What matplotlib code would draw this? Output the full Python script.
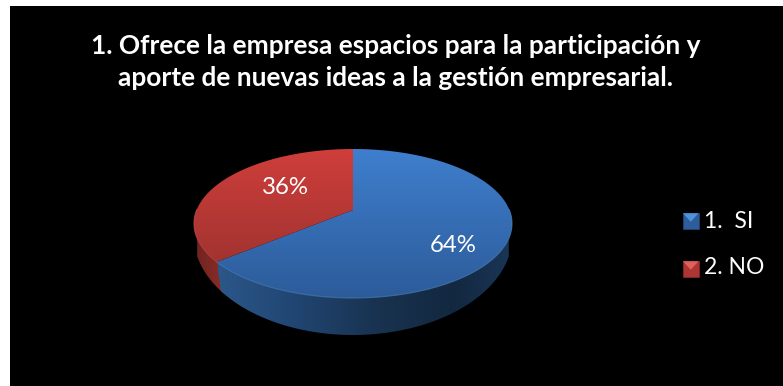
import numpy as np
import matplotlib
matplotlib.use('Agg')
import matplotlib.pyplot as plt
from matplotlib.colors import LinearSegmentedColormap
from matplotlib.patches import Polygon, Rectangle

titulo = '1. Ofrece la empresa espacios para la participación y\naporte de nuevas ideas a la gestión empresarial.'
categorias = ['1.  SI', '2. NO']
valores = [64, 36]

W, H = 783, 386
fig = plt.figure(figsize=(W / 100, H / 100), dpi=100, facecolor='white')
ax = fig.add_axes([0, 0, 1, 1])
ax.set_xlim(0, W)
ax.set_ylim(H, 0)
ax.axis('off')
ax.add_patch(Rectangle((10, 6), W - 10, H - 6, fc='black', ec='none'))

# geometria del pastel (circulo unitario -> elipse con perspectiva)
cx, cy = 353, 223.5
A, B, C, k = 156.4, 74.5, -13.5, 0.181


def proyecta(ang):
    # ang en radianes desde arriba, sentido horario
    u, v = np.sin(ang), -np.cos(ang)
    w = 1 - k * v
    return cx + A * u / w, cy + (B * v + C) / w


def base(x):
    # contorno inferior del cilindro
    d = np.clip((x - cx) / 159.5, -1, 1)
    return 235 + 100 * np.sqrt(1 - d ** 2)


def degradado(colores, extent, vertical=True, clip=None):
    cmap = LinearSegmentedColormap.from_list('g', colores)
    g = np.linspace(0, 1, 256)
    g = g[:, None] if vertical else g[None, :]
    im = ax.imshow(g, cmap=cmap, extent=extent, aspect='auto', zorder=2, interpolation='bilinear')
    if clip is not None:
        p = Polygon(clip, closed=True, transform=ax.transData, fc='none', ec='none')
        ax.add_patch(p)
        im.set_clip_path(p)


fraccion = valores[0] / sum(valores)
corte = 2 * np.pi * fraccion
t_azul = np.linspace(0, corte, 300)
t_rojo = np.linspace(corte, 2 * np.pi, 200)
xa, ya = proyecta(t_azul)
xr, yr = proyecta(t_rojo)
hub = (cx, cy + C)

# lados del cilindro: primero el rojo, el azul queda encima en la union
arco = np.linspace(corte - 0.03, 3 * np.pi / 2 + 0.02, 80)
xs, ys = proyecta(arco)
xi = np.linspace(224, xs[-1], 80)
lado_rojo = np.r_[np.c_[xs, ys], np.c_[xi, base(xi)][::-1]]
degradado(['#6e2320', '#8a2c28'], (193, 224, 340, 200), vertical=False, clip=lado_rojo)

arco = np.linspace(np.pi / 2 - 0.02, corte, 200)
xs, ys = proyecta(arco)
xi = np.linspace(xs[0], 221, 200)
lado_azul = np.r_[np.c_[xs, ys], np.c_[xi, base(xi)][::-1]]
cmap_lado = LinearSegmentedColormap.from_list('lado', [(0, '#2b5789'), (0.25, '#214673'), (0.55, '#18324f'),
                                                       (0.8, '#132840'), (1, '#1a3657')])
g = np.linspace(0, 1, 256)[None, :]
im = ax.imshow(g, cmap=cmap_lado, extent=(218, 513, 340, 200), aspect='auto', zorder=2)
p = Polygon(lado_azul, closed=True, fc='none', ec='none')
ax.add_patch(p)
im.set_clip_path(p)

# caras superiores
cara_azul = np.r_[[hub], np.c_[xa, ya]]
cara_rojo = np.r_[[hub], np.c_[xr, yr]]
degradado(['#3f7fce', '#2c5b99'], (190, 515, 300, 148), clip=cara_azul)
degradado(['#cf3e3b', '#93302d'], (190, 515, 300, 148), clip=cara_rojo)

# brillo del borde frontal
frente = np.linspace(np.pi / 2, corte, 200)
xb, yb = proyecta(frente)
ax.plot(xb, yb, color='#4a7fb8', lw=0.8, alpha=0.7, zorder=3)
frente = np.linspace(corte, 3 * np.pi / 2, 60)
xb, yb = proyecta(frente)
ax.plot(xb, yb, color='#c04a46', lw=0.8, alpha=0.7, zorder=3)

ax.text(395.5, 62, titulo, color='white', fontsize=18.9, fontweight='bold', family='Lato',
        ha='center', va='center', linespacing=1.45, zorder=5)

# etiquetas de porcentaje
ax.text(453, 245, f'{valores[0]}%', color='white', fontsize=17.3, family='Lato', ha='center', va='center', zorder=5)
ax.text(285, 187, f'{valores[1]}%', color='white', fontsize=17.3, family='Lato', ha='center', va='center', zorder=5)

# leyenda
filas = [221, 269]
filas_txt = [221, 267]
tonos = [('#4f93dc', '#2d5d9b', '#234a7c'), ('#e0605c', '#ab3633', '#8a2a28')]
for cat, yf, yt, (claro, medio, oscuro) in zip(categorias, filas, filas_txt, tonos):
    x0, s = 683, 15.5
    y0 = yf - s / 2
    ax.add_patch(Rectangle((x0, y0), s, s, fc=medio, ec=oscuro, lw=0.5, zorder=4))
    ax.add_patch(Polygon([(x0, y0), (x0 + s, y0), (x0 + s / 2, y0 + s * 0.55)], fc=claro, ec='none', zorder=5))
    ax.text(704, yt, cat, color='white', fontsize=16.5, family='Lato', ha='left', va='center', zorder=5)

fig.savefig('out.png', dpi=100, facecolor='white')
